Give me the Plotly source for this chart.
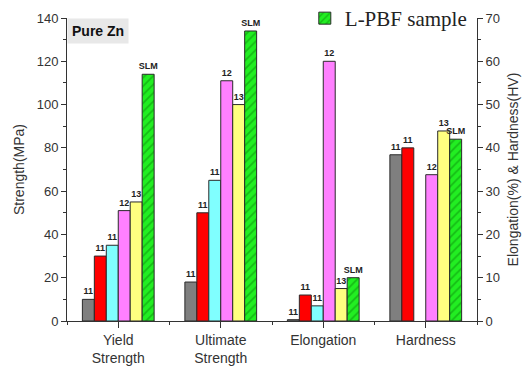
import plotly.graph_objects as go

# Mechanical properties of pure Zn from different processing routes
strength_cats = [0, 1]          # Yield Strength, Ultimate Strength
right_cats = [2, 3]             # Elongation, Hardness
tick_labels = ["Yield<br>Strength", "Ultimate<br>Strength", "Elongation", "Hardness"]

series_names = ["ref 11a", "ref 11b", "ref 11c", "ref 12", "ref 13", "L-PBF sample"]
series_colors = ["#7f7f7f", "#ff0000", "#80ffff", "#ff80ff", "#ffff80", "#22ee22"]

# Strength (MPa): [yield, ultimate]
strength_vals = [
    [10, 18],
    [30, 50],
    [35, 65],
    [51, 111],
    [55, 100],
    [114, 134],
]
# Elongation (%) and hardness (HV)
right_vals = [
    [0.3, 38.4],
    [6, 40],
    [3.5, None],
    [60, 33.8],
    [7.5, 43.9],
    [10, 42],
]
strength_text = [["11", "11"], ["11", "11"], ["11", "11"], ["12", "12"], ["13", "13"], ["SLM", "SLM"]]
right_text = [["11", "11"], ["11", "11"], ["11", ""], ["12", "12"], ["13", "13"], ["SLM", "SLM"]]

n = len(series_names)
group_w = 0.70
bar_w = group_w / n

fig = go.Figure()


def add_bars(xs, vals, texts, yaxis, show_legend):
    for i in range(n):
        is_slm = i == n - 1
        marker = dict(color=series_colors[i], line=dict(color="#2a2a2a", width=1))
        if is_slm:
            marker["pattern"] = dict(shape="/", fgcolor="#0a8a0a", bgcolor="#22ee22",
                                     size=6, solidity=0.3)
        fig.add_trace(go.Bar(
            x=xs, y=vals[i], text=[f"<b>{t}</b>" if t else "" for t in texts[i]],
            width=bar_w, offset=-group_w / 2 + i * bar_w,
            marker=marker, yaxis=yaxis,
            name=series_names[i],
            showlegend=show_legend and is_slm,
            textposition="outside", constraintext="none", cliponaxis=False,
            textfont=dict(family="Arial", size=9, color="#222222"),
            textangle=0,
        ))


add_bars(strength_cats, strength_vals, strength_text, "y", True)
add_bars(right_cats, right_vals, right_text, "y2", False)

axis_font = dict(family="Arial", size=13, color="#333333")

fig.update_layout(
    width=526, height=367,
    margin=dict(l=67, r=49, t=18, b=46, autoexpand=False),
    paper_bgcolor="white", plot_bgcolor="white",
    barmode="overlay",
    font=dict(family="Arial", color="#333333"),
    xaxis=dict(
        range=[-0.5, 3.5], tickvals=[0, 1, 2, 3], ticktext=tick_labels,
        ticks="outside", ticklen=6, tickcolor="#333333",
        showline=True, linecolor="#333333", linewidth=1,
        showgrid=False, zeroline=False, automargin=False,
        tickfont=dict(family="Arial", size=14, color="#333333"),
        minor=dict(tick0=0.5, dtick=1, ticks="outside", ticklen=3, tickcolor="#333333"),
    ),
    yaxis=dict(
        range=[0, 140], dtick=20, ticks="outside", ticklen=5, tickcolor="#333333",
        showline=True, linecolor="#333333", linewidth=1,
        showgrid=False, zeroline=False, tickfont=axis_font, automargin=False,
        minor=dict(dtick=10, ticks="outside", ticklen=3, tickcolor="#333333"),
        title=dict(text="Strength(MPa)", font=dict(family="Arial", size=14, color="#333333"),
                   standoff=8),
    ),
    yaxis2=dict(
        range=[0, 70], dtick=10, overlaying="y", side="right",
        ticks="outside", ticklen=5, tickcolor="#333333",
        showline=True, linecolor="#333333", linewidth=1,
        showgrid=False, zeroline=False, tickfont=axis_font, automargin=False,
        minor=dict(dtick=5, ticks="outside", ticklen=3, tickcolor="#333333"),
        title=dict(text="Elongation(%) & Hardness(HV)",
                   font=dict(family="Arial", size=14, color="#333333"), standoff=9),
    ),
    legend=dict(
        x=0.58, y=1.066, xanchor="left", yanchor="top",
        bgcolor="rgba(0,0,0,0)",
        font=dict(family="Liberation Serif", size=21, color="#222222"),
    ),
    annotations=[dict(
        x=0.0, y=1.0, xref="paper", yref="paper", xanchor="left", yanchor="top",
        text="<b>Pure Zn</b>", showarrow=False, bgcolor="#e8e8e8",
        font=dict(family="Arial", size=14, color="#111111"),
        borderpad=4,
    )],
)

fig.write_html("out.html")
